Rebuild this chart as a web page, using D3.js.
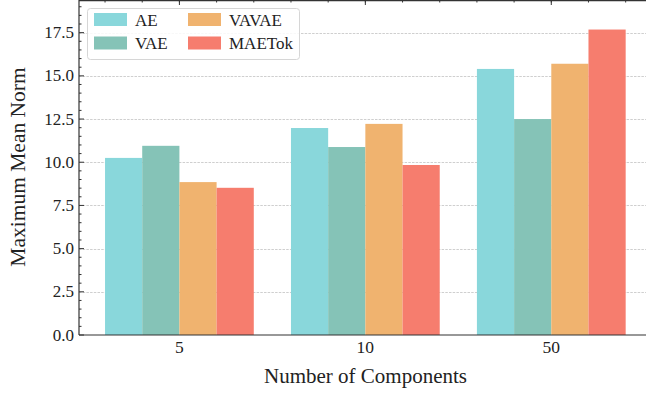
<!DOCTYPE html>
<html>
<head>
<meta charset="utf-8">
<script src="https://cdn.jsdelivr.net/npm/d3@7"></script>
<style>
  body { margin: 0; background: #fff; }
  text { font-family: "Liberation Serif", "DejaVu Serif", serif; fill: #222; }
</style>
</head>
<body>
<div id="chart"></div>
<script>
// data
var categories = ['5', '10', '50'];
var series = ['AE', 'VAE', 'VAVAE', 'MAETok'];
var aeValues = [10.25, 11.98, 15.40];
var vaeValues = [10.95, 10.88, 12.50];
var vavaeValues = [8.85, 12.22, 15.70];
var maetokValues = [8.52, 9.84, 17.68];
var yTicks = [0, 2.5, 5, 7.5, 10, 12.5, 15, 17.5];
var colors = ['#89d7db', '#85c3b7', '#f0b36f', '#f67d6e'];

var allValues = [aeValues, vaeValues, vavaeValues, maetokValues];
var rows = categories.map((c, i) => ({
    cat: c,
    vals: series.map((s, j) => ({ key: s, value: allValues[j][i] }))
}));

var width = 646,
    height = 394,
    margin = { top: 0, left: 79, bottom: 59 },
    plotRight = 651.7,
    plotBottom = height - margin.bottom;

var svg = d3.select('#chart')
    .append('svg')
    .attr('width', width)
    .attr('height', height);

var xScale0 = d3.scaleBand()
    .domain(categories)
    .range([margin.left, plotRight])
    .paddingInner(0.2)
    .paddingOuter(0.14);
var xScale1 = d3.scaleBand()
    .domain(series)
    .range([0, xScale0.bandwidth()]);
var yScale = d3.scaleLinear()
    .domain([0, 19.39])
    .range([plotBottom, margin.top]);

// minor x positions: every bar width, like the matplotlib minor locator
var step = xScale0.step();
var minorX = d3.range(-2, 13).map(k => xScale0('5') + xScale0.bandwidth() / 2 + (k * step) / 5)
    .filter(x => x > margin.left && x < width);

// grid
svg.append('g')
    .selectAll('line')
    .data(yTicks.slice(1))
    .enter()
    .append('line')
    .attr('x1', margin.left)
    .attr('x2', plotRight)
    .attr('y1', d => Math.round(yScale(d)) + 0.5)
    .attr('y2', d => Math.round(yScale(d)) + 0.5)
    .attr('stroke', '#cfcfcf')
    .attr('stroke-width', 1)
    .attr('stroke-dasharray', '2.5,1.2');

// bars
var group = svg.selectAll('.group')
    .data(rows)
    .enter()
    .append('g')
    .attr('class', 'group')
    .attr('transform', d => `translate(${xScale0(d.cat)},0)`);

group.selectAll('rect')
    .data(d => d.vals)
    .enter()
    .append('rect')
    .attr('x', d => xScale1(d.key))
    .attr('y', d => yScale(d.value))
    .attr('width', xScale1.bandwidth())
    .attr('height', d => plotBottom - yScale(d.value))
    .attr('fill', (d, i) => colors[i]);

// frame
var frame = svg.append('g').attr('stroke', '#333').attr('stroke-width', 1.2);
frame.append('line').attr('x1', margin.left).attr('x2', plotRight).attr('y1', plotBottom).attr('y2', plotBottom);
frame.append('line').attr('x1', margin.left).attr('x2', plotRight).attr('y1', margin.top + 0.6).attr('y2', margin.top + 0.6);
frame.append('line').attr('x1', margin.left).attr('x2', margin.left).attr('y1', margin.top).attr('y2', plotBottom);

// y axis ticks (inward) and labels
var yMinor = d3.range(0, 19.4, 0.5).filter(v => Math.abs(v / 2.5 - Math.round(v / 2.5)) > 1e-6);
var ticks = svg.append('g').attr('stroke', '#333').attr('stroke-width', 1);
ticks.selectAll('.ymaj')
    .data(yTicks)
    .enter()
    .append('line')
    .attr('x1', margin.left)
    .attr('x2', margin.left + 5)
    .attr('y1', d => yScale(d))
    .attr('y2', d => yScale(d));
ticks.selectAll('.ymin')
    .data(yMinor)
    .enter()
    .append('line')
    .attr('x1', margin.left)
    .attr('x2', margin.left + 2.5)
    .attr('y1', d => yScale(d))
    .attr('y2', d => yScale(d));

// top x ticks
ticks.selectAll('.xmaj')
    .data(categories)
    .enter()
    .append('line')
    .attr('x1', d => xScale0(d) + xScale0.bandwidth() / 2)
    .attr('x2', d => xScale0(d) + xScale0.bandwidth() / 2)
    .attr('y1', margin.top)
    .attr('y2', margin.top + 5);
ticks.selectAll('.xmin')
    .data(minorX)
    .enter()
    .append('line')
    .attr('x1', d => d)
    .attr('x2', d => d)
    .attr('y1', margin.top)
    .attr('y2', margin.top + 2.5);

svg.append('g')
    .selectAll('text')
    .data(yTicks)
    .enter()
    .append('text')
    .attr('x', margin.left - 5)
    .attr('y', d => yScale(d) + 5.5)
    .attr('text-anchor', 'end')
    .attr('font-size', 17)
    .text(d => d3.format('.1f')(d));

svg.append('g')
    .selectAll('text')
    .data(categories)
    .enter()
    .append('text')
    .attr('x', d => xScale0(d) + xScale0.bandwidth() / 2)
    .attr('y', plotBottom + 18)
    .attr('text-anchor', 'middle')
    .attr('font-size', 17.5)
    .text(d => d);

// axis titles
svg.append('text')
    .attr('x', 365.5)
    .attr('y', 383)
    .attr('text-anchor', 'middle')
    .attr('font-size', 21)
    .text('Number of Components');

svg.append('text')
    .attr('transform', `translate(25,167) rotate(-90)`)
    .attr('text-anchor', 'middle')
    .attr('font-size', 21.5)
    .text('Maximum Mean Norm');

// legend
var legend = svg.append('g').attr('transform', 'translate(87,8)');
legend.append('rect')
    .attr('x', 0.5)
    .attr('y', 0.5)
    .attr('width', 212)
    .attr('height', 51)
    .attr('rx', 3)
    .attr('fill', 'rgba(255,255,255,0.85)')
    .attr('stroke', '#d6d6d6');

var item = legend.selectAll('.item')
    .data(series)
    .enter()
    .append('g')
    .attr('class', 'item')
    .attr('transform', (d, i) => `translate(${7 + Math.floor(i / 2) * 94},${5 + (i % 2) * 23.5})`);
item.append('rect')
    .attr('width', 33)
    .attr('height', 13)
    .attr('fill', (d, i) => colors[i]);
item.append('text')
    .attr('x', 41)
    .attr('y', 12.5)
    .attr('font-size', 17)
    .text(d => d);
</script>
</body>
</html>
